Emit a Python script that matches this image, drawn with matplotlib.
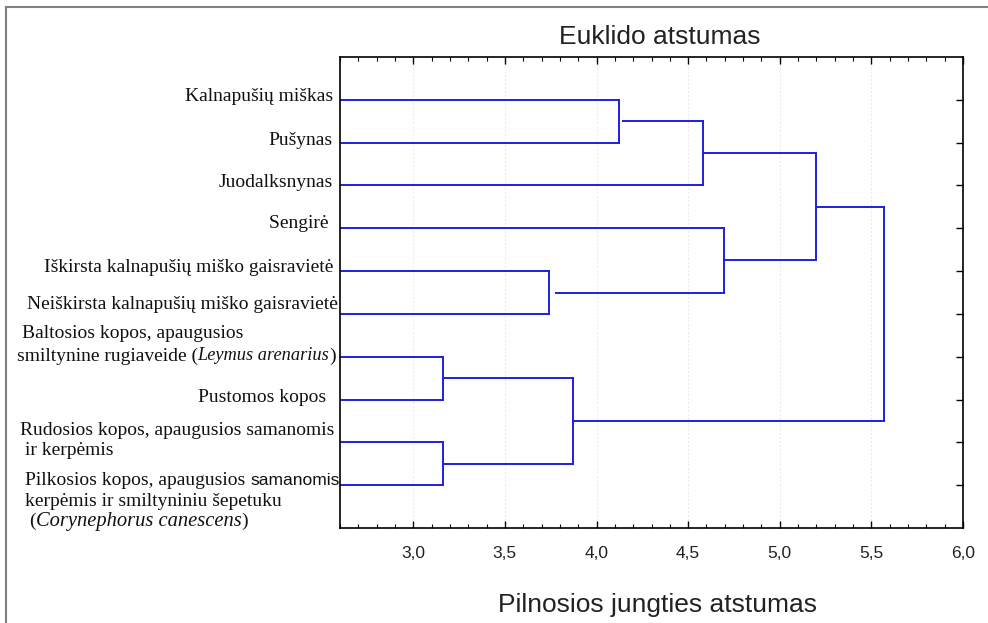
import matplotlib
matplotlib.use("Agg")
import matplotlib.pyplot as plt
from matplotlib.ticker import MultipleLocator, FuncFormatter
from matplotlib.transforms import blended_transform_factory
from matplotlib.patches import Rectangle

# leaf labels, top to bottom; each line is a list of (text, style) runs
# style: "r" serif roman, "i" serif italic, "s" sans (as in the original figure)
leaf_labels = [
	[[("Kalnapušių miškas", "r")]],
	[[("Pušynas", "r")]],
	[[("Juodalksnynas", "r")]],
	[[("Sengirė ", "r")]],
	[[("Iškirsta kalnapušių miško gaisravietė", "r")]],
	[[("Neiškirsta kalnapušių miško gaisravietė", "r")]],
	[[("Baltosios kopos, apaugusios", "r")],
	 [("smiltynine rugiaveide (", "r"), ("Leymus arenarius", "i"), (")", "r")]],
	[[("Pustomos kopos ", "r")]],
	[[("Rudosios kopos, apaugusios samanomis", "r")],
	 [("ir kerpėmis", "r")]],
	[[("Pilkosios kopos, apaugusios ", "r"), ("samanomis", "s")],
	 [("kerpėmis ir smiltyniniu šepetuku", "r")],
	 [("(", "r"), ("Corynephorus canescens", "i"), (")", "r")]],
]

# linkage: (child a, child b, distance); leaves 0..9, new clusters 10, 11, ...
merges = [
	(0, 1, 4.124),
	(10, 2, 4.582),
	(4, 5, 3.743),
	(3, 12, 4.693),
	(11, 13, 5.199),
	(6, 7, 3.160),
	(8, 9, 3.160),
	(15, 16, 3.874),
	(14, 17, 5.571),
]
# some links start a little right of their cluster line
link_start = {10: 4.147, 12: 3.781}

title = "Euklido atstumas"
xlabel = "Pilnosios jungties atstumas"

line_col = "#1f1fe0"

fig = plt.figure(figsize=(9.88, 6.23), dpi=100)
ax = fig.add_axes([340/988, 1-528/623, 623/988, 471/623])

n = len(leaf_labels)
pos = {i: i + 1 for i in range(n)}
height = {i: 0.0 for i in range(n)}
for k, (a, b, d) in enumerate(merges):
	c = n + k
	ha = link_start.get(a, height[a])
	hb = link_start.get(b, height[b])
	ax.plot([ha, d], [pos[a], pos[a]], color=line_col, lw=1.4)
	ax.plot([hb, d], [pos[b], pos[b]], color=line_col, lw=1.4)
	ax.plot([d, d], [pos[a], pos[b]], color=line_col, lw=1.4)
	pos[c] = (pos[a] + pos[b]) / 2
	height[c] = d

ax.set_xlim(2.6, 6.0)
ax.set_ylim(n + 1, 0)
ax.xaxis.set_major_locator(MultipleLocator(0.5))
ax.xaxis.set_minor_locator(MultipleLocator(0.1))
ax.xaxis.set_major_formatter(FuncFormatter(lambda v, p: ("%.1f" % v).replace(".", ",")))
ax.set_yticks(range(1, n + 1))
ax.set_yticklabels([])
ax.tick_params(axis="x", which="major", direction="in", length=5, width=1, top=True,
	labelsize=12.5, pad=13, labelfontfamily="Liberation Sans", labelcolor="#222222")
ax.tick_params(axis="x", which="minor", direction="in", length=3, width=0.8, top=True)
ax.tick_params(axis="y", direction="in", length=5, width=1, left=False, right=True)
for s in ax.spines.values():
	s.set_linewidth(1.2)
ax.grid(axis="x", color="#e8e8e8", linestyle=(0, (2, 2)), lw=0.7)
ax.set_axisbelow(True)

# leaf labels: x in figure pixels, y in data rows
tr = blended_transform_factory(fig.transFigure, ax.transData)
W = 988
styles = {
	"r": dict(fontsize=14, family="Liberation Serif"),
	"i": dict(fontsize=13.2, family="Liberation Serif", style="italic"),
	"s": dict(fontsize=12.5, family="Liberation Sans"),
}
renderer = fig.canvas.get_renderer()

def put_line(runs, x_px, y, align, scale=1.0):
	# measure the runs, then lay them out left to right
	objs = []
	for txt, st in runs:
		kw = dict(styles[st])
		if st == "i":
			kw["fontsize"] = kw["fontsize"] * scale
		objs.append(fig.text(0, y, txt, va="center", color="#111111", transform=tr, **kw))
	widths = [o.get_window_extent(renderer).width for o in objs]
	x = x_px - sum(widths) if align == "right" else x_px
	for o, w in zip(objs, widths):
		o.set_x(x / W)
		x += w

# per label line: (x px, row offset, align, italic size scale)
layout = {
	0: [(333, -0.08, "right", 1)],
	1: [(333, -0.05, "right", 1)],
	2: [(333, -0.08, "right", 1)],
	3: [(333, -0.12, "right", 1)],
	4: [(333, -0.08, "right", 1)],
	5: [(338, -0.22, "right", 1)],
	6: [(22, -0.55, "left", 1), (336, -0.02, "right", 1)],
	7: [(331, -0.05, "right", 1)],
	8: [(20, -0.27, "left", 1), (25, 0.2, "left", 1)],
	9: [(25, -0.12, "left", 1), (25, 0.38, "left", 1), (29, 0.85, "left", 1.12)],
}
for i, lines in enumerate(leaf_labels):
	for runs, (xp, dy, al, sc) in zip(lines, layout[i]):
		put_line(runs, xp, i + 1 + dy, al, sc)

fig.text(660 / W, 1 - 37/623, title, ha="center", va="center", fontsize=19,
	family="Liberation Sans", color="#222222")
fig.text(657 / W, 1 - 605/623, xlabel, ha="center", va="center", fontsize=19,
	family="Liberation Sans", color="#222222")

# grey frame of the original figure, open at right and bottom
fig.patches.append(Rectangle((6 / W, -0.1), 1.2, 1 - 7/623 + 0.1, transform=fig.transFigure,
	fill=False, edgecolor="#808080", lw=1.5))

fig.savefig("out.png", dpi=100)
